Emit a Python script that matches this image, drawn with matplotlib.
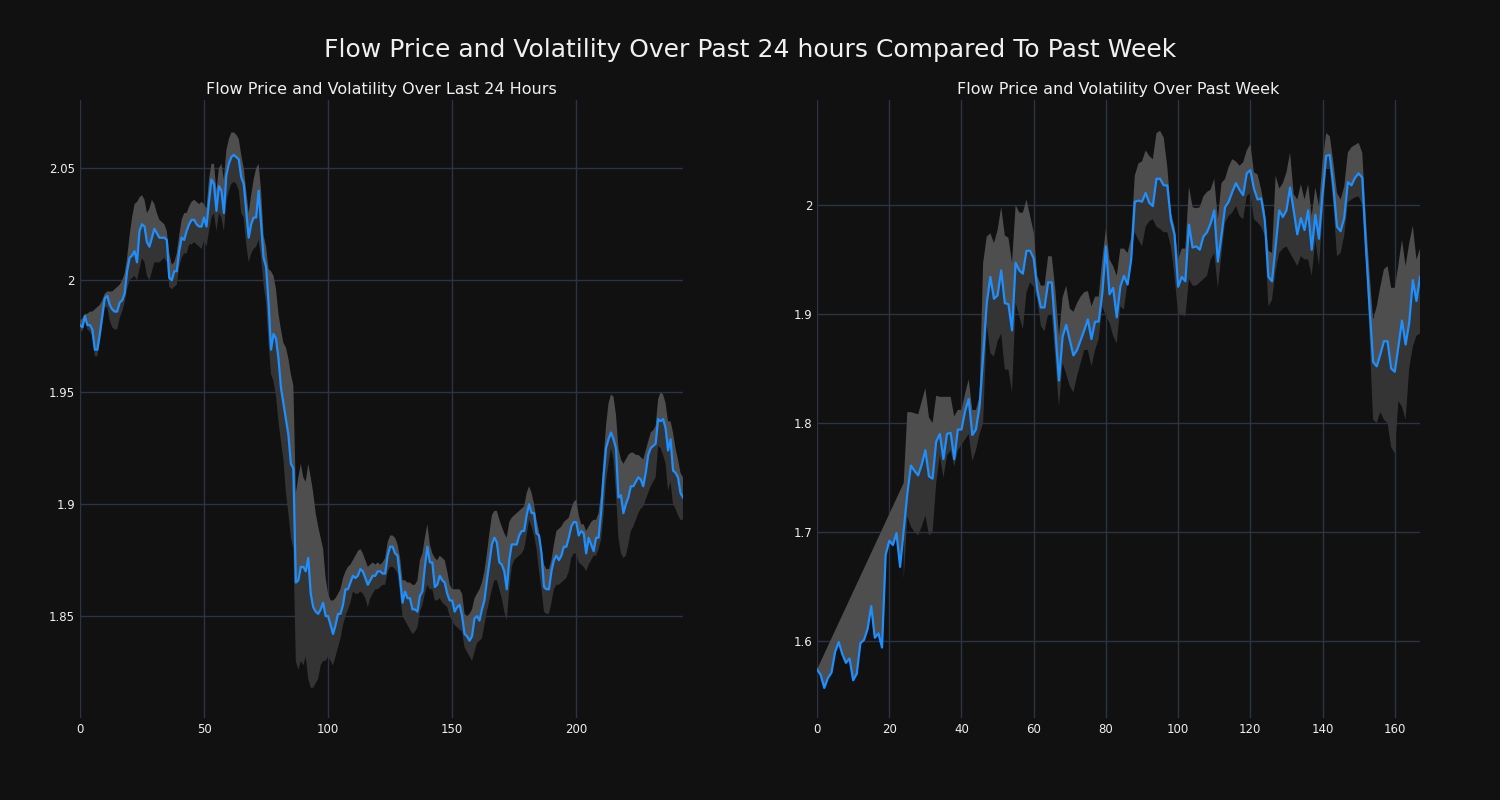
import numpy as np
import matplotlib
matplotlib.use("Agg")
import matplotlib.pyplot as plt
from matplotlib.ticker import FuncFormatter

# --- last 24 hours (one point per step) ---
day_price = [
    1.980, 1.979, 1.984, 1.980, 1.980, 1.978, 1.969, 1.969, 1.976, 1.984,
    1.992, 1.993, 1.989, 1.987, 1.986, 1.986, 1.990, 1.991, 1.994, 2.004,
    2.010, 2.011, 2.013, 2.008, 2.022, 2.025, 2.024, 2.017, 2.015, 2.019,
    2.023, 2.021, 2.019, 2.019, 2.019, 2.018, 2.001, 2.000, 2.004, 2.004,
    2.013, 2.019, 2.018, 2.022, 2.025, 2.027, 2.027, 2.025, 2.024, 2.024,
    2.028, 2.024, 2.035, 2.045, 2.043, 2.031, 2.042, 2.040, 2.030, 2.047,
    2.052, 2.055, 2.056, 2.055, 2.054, 2.046, 2.043, 2.031, 2.019, 2.025,
    2.028, 2.028, 2.040, 2.025, 2.010, 2.006, 1.990, 1.969, 1.976, 1.974,
    1.965, 1.952, 1.945, 1.938, 1.931, 1.918, 1.916, 1.865, 1.866, 1.872,
    1.872, 1.870, 1.876, 1.860, 1.854, 1.852, 1.851, 1.853, 1.856, 1.850,
    1.850, 1.846, 1.842, 1.846, 1.851, 1.851, 1.855, 1.862, 1.862, 1.865,
    1.868, 1.867, 1.868, 1.871, 1.870, 1.867, 1.864, 1.866, 1.868, 1.868,
    1.870, 1.870, 1.869, 1.869, 1.877, 1.881, 1.881, 1.878, 1.877, 1.867,
    1.856, 1.861, 1.858, 1.858, 1.853, 1.853, 1.852, 1.859, 1.861, 1.872,
    1.881, 1.874, 1.874, 1.863, 1.864, 1.868, 1.866, 1.865, 1.860, 1.857,
    1.857, 1.852, 1.854, 1.855, 1.850, 1.842, 1.841, 1.839, 1.841, 1.849,
    1.850, 1.848, 1.853, 1.857, 1.866, 1.874, 1.882, 1.885, 1.883, 1.874,
    1.873, 1.870, 1.862, 1.875, 1.882, 1.882, 1.882, 1.886, 1.888, 1.888,
    1.895, 1.900, 1.896, 1.896, 1.887, 1.886, 1.878, 1.863, 1.862, 1.862,
    1.870, 1.875, 1.877, 1.875, 1.877, 1.881, 1.881, 1.885, 1.890, 1.892,
    1.892, 1.886, 1.888, 1.887, 1.878, 1.885, 1.882, 1.879, 1.885, 1.885,
    1.896, 1.912, 1.925, 1.929, 1.932, 1.929, 1.925, 1.903, 1.904, 1.896,
    1.900, 1.903, 1.908, 1.908, 1.910, 1.912, 1.911, 1.908, 1.914, 1.922,
    1.925, 1.926, 1.927, 1.938, 1.937, 1.938, 1.934, 1.924, 1.929, 1.915,
    1.914, 1.912, 1.905, 1.903,
]
day_upper = [
    1.982, 1.983, 1.985, 1.985, 1.986, 1.986, 1.987, 1.988, 1.989, 1.991,
    1.994, 1.995, 1.995, 1.995, 1.996, 1.997, 1.998, 2.000, 2.003, 2.010,
    2.020, 2.028, 2.034, 2.035, 2.037, 2.038, 2.036, 2.030, 2.032, 2.036,
    2.034, 2.030, 2.027, 2.026, 2.025, 2.022, 2.012, 2.007, 2.008, 2.012,
    2.020, 2.027, 2.030, 2.030, 2.033, 2.035, 2.036, 2.035, 2.034, 2.035,
    2.034, 2.032, 2.045, 2.052, 2.052, 2.040, 2.050, 2.052, 2.045, 2.058,
    2.063, 2.066, 2.066, 2.065, 2.063, 2.056, 2.050, 2.040, 2.030, 2.038,
    2.045, 2.050, 2.052, 2.040, 2.020, 2.015, 2.005, 2.004, 2.002, 1.996,
    1.985, 1.978, 1.972, 1.970, 1.965, 1.958, 1.953, 1.905, 1.912, 1.918,
    1.912, 1.910, 1.918, 1.912, 1.905, 1.896, 1.890, 1.885, 1.880, 1.867,
    1.860, 1.857, 1.857, 1.858, 1.860, 1.862, 1.867, 1.870, 1.872, 1.873,
    1.875, 1.877, 1.879, 1.880, 1.878, 1.875, 1.872, 1.873, 1.874, 1.873,
    1.874, 1.873, 1.874, 1.876, 1.883, 1.886, 1.886, 1.885, 1.882, 1.876,
    1.866, 1.866, 1.865, 1.865, 1.864, 1.864, 1.866, 1.875, 1.878, 1.885,
    1.891, 1.882, 1.878, 1.876, 1.875, 1.877, 1.876, 1.875, 1.870, 1.864,
    1.862, 1.862, 1.862, 1.862, 1.860, 1.851, 1.850, 1.851, 1.853, 1.858,
    1.860, 1.862, 1.865, 1.870, 1.878, 1.887, 1.895, 1.897, 1.897, 1.893,
    1.890, 1.887, 1.885, 1.892, 1.894, 1.895, 1.896, 1.897, 1.898, 1.899,
    1.905, 1.908, 1.905, 1.900, 1.893, 1.888, 1.880, 1.873, 1.871, 1.871,
    1.875, 1.882, 1.888, 1.889, 1.890, 1.892, 1.893, 1.894, 1.898, 1.901,
    1.902, 1.895, 1.891, 1.891, 1.888, 1.890, 1.892, 1.893, 1.893, 1.896,
    1.905, 1.920, 1.935, 1.945, 1.949, 1.948, 1.940, 1.925, 1.920, 1.918,
    1.920, 1.922, 1.923, 1.923, 1.922, 1.922, 1.921, 1.920, 1.924, 1.928,
    1.932, 1.933, 1.935, 1.947, 1.950, 1.949, 1.945, 1.937, 1.937, 1.932,
    1.925, 1.920, 1.914, 1.912,
]
day_lower = [
    1.978, 1.977, 1.982, 1.978, 1.977, 1.975, 1.966, 1.966, 1.972, 1.980,
    1.988, 1.988, 1.982, 1.979, 1.978, 1.978, 1.983, 1.986, 1.990, 1.996,
    2.000, 2.001, 2.002, 2.000, 2.005, 2.010, 2.008, 2.002, 2.000, 2.004,
    2.008, 2.008, 2.008, 2.009, 2.010, 2.008, 1.997, 1.996, 1.997, 1.998,
    2.006, 2.010, 2.012, 2.012, 2.016, 2.016, 2.017, 2.016, 2.015, 2.014,
    2.018, 2.015, 2.022, 2.028, 2.030, 2.022, 2.030, 2.028, 2.022, 2.035,
    2.040, 2.043, 2.044, 2.043, 2.040, 2.030, 2.028, 2.016, 2.008, 2.012,
    2.014, 2.015, 2.018, 2.010, 1.998, 1.990, 1.972, 1.958, 1.955, 1.948,
    1.937, 1.928, 1.920, 1.905, 1.896, 1.885, 1.880, 1.830, 1.826, 1.830,
    1.828, 1.832, 1.822, 1.818, 1.818, 1.820, 1.822, 1.828, 1.830, 1.830,
    1.832, 1.830, 1.828, 1.832, 1.836, 1.840, 1.846, 1.850, 1.853, 1.856,
    1.861, 1.860, 1.860, 1.861, 1.860, 1.858, 1.854, 1.858, 1.860, 1.862,
    1.862, 1.863, 1.864, 1.864, 1.870, 1.872, 1.872, 1.871, 1.869, 1.860,
    1.850, 1.848, 1.846, 1.844, 1.842, 1.843, 1.845, 1.852, 1.855, 1.860,
    1.864, 1.862, 1.862, 1.857, 1.857, 1.858, 1.856, 1.855, 1.854, 1.850,
    1.848, 1.846, 1.845, 1.844, 1.843, 1.836, 1.834, 1.832, 1.830, 1.834,
    1.838, 1.839, 1.840, 1.846, 1.852, 1.857, 1.862, 1.866, 1.866, 1.862,
    1.858, 1.852, 1.848, 1.862, 1.872, 1.875, 1.876, 1.877, 1.878, 1.880,
    1.886, 1.893, 1.890, 1.886, 1.880, 1.870, 1.862, 1.852, 1.851, 1.851,
    1.856, 1.862, 1.864, 1.864, 1.865, 1.866, 1.867, 1.870, 1.876, 1.878,
    1.878, 1.874, 1.873, 1.872, 1.870, 1.873, 1.875, 1.877, 1.877, 1.880,
    1.884, 1.895, 1.910, 1.918, 1.925, 1.920, 1.905, 1.885, 1.878, 1.876,
    1.877, 1.882, 1.888, 1.890, 1.893, 1.896, 1.898, 1.899, 1.902, 1.905,
    1.908, 1.910, 1.912, 1.926, 1.925, 1.922, 1.918, 1.906, 1.910, 1.900,
    1.898, 1.895, 1.893, 1.893,
]

# --- past week (hourly) ---
week_price = [
    1.574, 1.569, 1.557, 1.566, 1.571, 1.590, 1.599, 1.588, 1.580, 1.584,
    1.564, 1.570, 1.598, 1.601, 1.611, 1.632, 1.603, 1.607, 1.594, 1.679,
    1.692, 1.688, 1.699, 1.668, 1.702, 1.735, 1.761, 1.756, 1.752, 1.762,
    1.775, 1.751, 1.749, 1.783, 1.790, 1.767, 1.790, 1.791, 1.767, 1.794,
    1.794, 1.811, 1.822, 1.789, 1.794, 1.815, 1.861, 1.910, 1.934, 1.914,
    1.917, 1.940, 1.910, 1.909, 1.885, 1.947, 1.940, 1.937, 1.958, 1.958,
    1.951, 1.922, 1.906, 1.906, 1.929, 1.929, 1.885, 1.839, 1.879, 1.890,
    1.876, 1.862, 1.867, 1.876, 1.885, 1.895, 1.877, 1.893, 1.893, 1.919,
    1.962, 1.918, 1.924, 1.897, 1.925, 1.935, 1.927, 1.950, 2.003, 2.004,
    2.003, 2.011, 2.002, 1.999, 2.024, 2.024, 2.018, 2.018, 1.986, 1.973,
    1.925, 1.934, 1.930, 1.982, 1.961, 1.962, 1.959, 1.971, 1.975, 1.983,
    1.995, 1.948, 1.972, 1.998, 2.003, 2.012, 2.020, 2.014, 2.009, 2.029,
    2.032, 2.015, 2.005, 2.006, 1.986, 1.934, 1.930, 1.962, 1.995, 1.989,
    1.995, 2.016, 1.995, 1.973, 1.988, 1.977, 1.995, 1.959, 1.991, 1.969,
    2.010, 2.045, 2.046, 2.017, 1.980, 1.976, 1.988, 2.021, 2.018, 2.025,
    2.029, 2.025, 1.962, 1.907, 1.856, 1.852, 1.863, 1.875, 1.875, 1.850,
    1.847, 1.870, 1.894, 1.872, 1.892, 1.931, 1.912, 1.934,
]
# volatility band only exists from hour 24 on
week_band_start = 24
week_upper = [
    1.745, 1.810, 1.810, 1.809, 1.808, 1.820, 1.832, 1.805, 1.800, 1.825,
    1.824, 1.824, 1.824, 1.824, 1.806, 1.812, 1.812, 1.827, 1.840, 1.812,
    1.812, 1.824, 1.947, 1.971, 1.974, 1.965, 1.977, 1.998, 1.972, 1.970,
    1.947, 2.000, 1.993, 1.993, 2.005, 1.990, 1.975, 1.935, 1.926, 1.926,
    1.953, 1.953, 1.922, 1.880, 1.915, 1.926, 1.905, 1.902, 1.910, 1.916,
    1.920, 1.921, 1.907, 1.916, 1.916, 1.950, 1.978, 1.950, 1.944, 1.935,
    1.960, 1.960, 1.956, 1.970, 2.027, 2.038, 2.040, 2.050, 2.045, 2.042,
    2.066, 2.068, 2.062, 2.035, 1.993, 1.980, 1.950, 1.960, 1.960, 2.017,
    1.998, 1.997, 1.998, 2.008, 2.012, 2.014, 2.024, 1.987, 2.020, 2.024,
    2.035, 2.042, 2.040, 2.036, 2.039, 2.050, 2.056, 2.030, 2.028, 2.014,
    1.995, 1.958, 1.956, 2.027, 2.015, 2.020, 2.030, 2.048, 2.010, 2.005,
    2.019, 2.005, 2.019, 1.990, 2.016, 1.999, 2.040, 2.066, 2.063, 2.039,
    2.011, 2.005, 2.017, 2.048, 2.053, 2.055, 2.057, 2.048, 1.987, 1.938,
    1.895, 1.907, 1.925, 1.941, 1.944, 1.924, 1.924, 1.945, 1.968, 1.944,
    1.965, 1.981, 1.950, 1.960,
]
week_lower = [
    1.656, 1.714, 1.705, 1.700, 1.697, 1.705, 1.715, 1.697, 1.700, 1.745,
    1.770, 1.750, 1.770, 1.775, 1.760, 1.775, 1.780, 1.785, 1.790, 1.765,
    1.775, 1.790, 1.800, 1.890, 1.864, 1.861, 1.875, 1.882, 1.849, 1.849,
    1.828, 1.910, 1.898, 1.886, 1.920, 1.929, 1.925, 1.913, 1.889, 1.884,
    1.900, 1.900, 1.858, 1.815, 1.855, 1.845, 1.834, 1.828, 1.843, 1.855,
    1.867, 1.867, 1.852, 1.867, 1.877, 1.907, 1.898, 1.892, 1.880, 1.873,
    1.907, 1.904, 1.930, 1.959, 1.975, 1.968, 1.962, 1.980, 1.985, 1.987,
    1.980, 1.978, 1.975, 1.975, 1.962, 1.935, 1.900, 1.899, 1.898, 1.932,
    1.926, 1.926, 1.929, 1.932, 1.935, 1.950, 1.956, 1.924, 1.955, 1.984,
    1.990, 1.993, 1.999, 1.990, 1.987, 2.008, 2.011, 1.987, 1.984, 1.980,
    1.972, 1.907, 1.913, 1.940, 1.956, 1.960, 1.962, 1.956, 1.950, 1.944,
    1.953, 1.950, 1.950, 1.935, 1.968, 1.944, 1.990, 2.033, 2.033, 2.000,
    1.953, 1.956, 1.972, 2.002, 2.005, 2.007, 2.008, 2.000, 1.950, 1.880,
    1.803, 1.800, 1.810, 1.803, 1.800, 1.778, 1.772, 1.820, 1.815, 1.803,
    1.850, 1.870, 1.880, 1.882,
]

BG = "#111111"
GRID = "#2b3441"
LINE = "#1e8fff"
LIGHT = "#4e4e4e"
DARK = "#343434"
TEXT = "#f0f0f0"


def fmt(v, pos):
    return f"{v:g}"


def draw_panel(ax, price, up_x, up_y, lo_x, lo_y, title):
    x = np.arange(len(price))
    price = np.asarray(price)
    # light part: between the price and the upper band
    ax.fill(np.r_[up_x, x[::-1]], np.r_[up_y, price[::-1]],
            color=LIGHT, lw=0, zorder=2)
    # dark part: between the lower band and the price
    sel = x >= lo_x[0]
    ax.fill(np.r_[lo_x, x[sel][::-1]], np.r_[lo_y, price[sel][::-1]],
            color=DARK, lw=0, zorder=2)
    ax.plot(x, price, color=LINE, lw=1.6, zorder=3)

    ax.set_facecolor(BG)
    ax.set_title(title, color=TEXT, fontsize=11.5, pad=4)
    ax.grid(True, color=GRID, lw=1)
    ax.set_axisbelow(True)
    for s in ax.spines.values():
        s.set_visible(False)
    ax.tick_params(colors=TEXT, labelsize=8.5, length=0, pad=3.5)
    ax.yaxis.set_major_formatter(FuncFormatter(fmt))
    ax.set_xlim(0, len(price) - 1)


fig = plt.figure(figsize=(15, 8), dpi=100, facecolor=BG)
ax1 = fig.add_axes([0.0533, 0.1025, 0.402, 0.7725])
ax2 = fig.add_axes([0.5447, 0.1025, 0.402, 0.7725])

n_day = len(day_price)
draw_panel(ax1, day_price,
           np.arange(n_day), day_upper,
           np.arange(n_day), day_lower,
           "Flow Price and Volatility Over Last 24 Hours")
ax1.set_ylim(1.8045, 2.0805)
ax1.set_xticks([0, 50, 100, 150, 200])

n_week = len(week_price)
band_x = np.arange(week_band_start, n_week)
draw_panel(ax2, week_price,
           np.r_[0, band_x], np.r_[week_price[0], week_upper],
           band_x, week_lower,
           "Flow Price and Volatility Over Past Week")
ax2.set_ylim(1.5294, 2.0963)
ax2.set_xticks([0, 20, 40, 60, 80, 100, 120, 140, 160])

fig.suptitle("Flow Price and Volatility Over Past 24 hours Compared To Past Week",
             color=TEXT, fontsize=18, y=0.9375, va="center")

fig.savefig("out.png", dpi=100, facecolor=BG)
